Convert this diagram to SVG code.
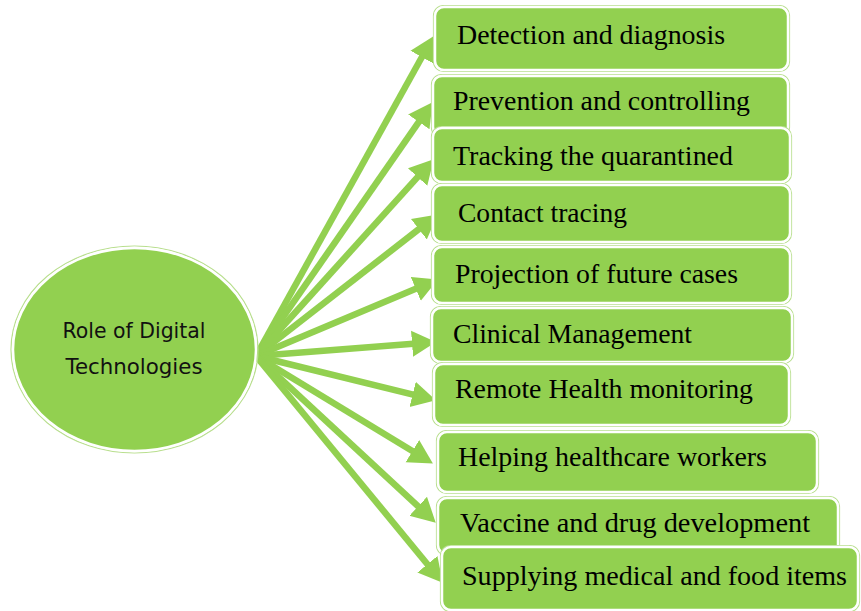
<svg xmlns="http://www.w3.org/2000/svg" width="861" height="611" viewBox="0 0 861 611">
  <style>
    .bg { fill: #ffffff; }
    .node { fill: #92D050; stroke: #ffffff; stroke-width: 2.5; }
    .halo { fill: none; stroke: #b9df8f; stroke-width: 1.2; }
    .lbl { font-family: "Liberation Serif", "Times New Roman", serif; font-size: 27px; fill: #000000; }
    .clbl { font-family: "DejaVu Sans", "Verdana", sans-serif; font-size: 21px; fill: #111111; text-anchor: middle; }
    .conn { stroke: #92D050; stroke-width: 6.5; fill: none; }
  </style>
  <defs>
    <marker id="ah" markerUnits="userSpaceOnUse" markerWidth="26" markerHeight="28" viewBox="0 0 26 28" refX="11" refY="14" orient="auto">
      <path d="M0,1 L24,14 L0,27 Z" fill="#92D050"/>
    </marker>
  </defs>
  <rect class="bg" x="0" y="0" width="861" height="611"/>

  <g id="connectors">
    <line class="conn" x1="256" y1="356" x2="427.2" y2="47.5" marker-end="url(#ah)"/>
    <line class="conn" x1="256" y1="356" x2="425.1" y2="112.9" marker-end="url(#ah)"/>
    <line class="conn" x1="256" y1="356" x2="425.0" y2="168.9" marker-end="url(#ah)"/>
    <line class="conn" x1="256" y1="356" x2="427.5" y2="222.4" marker-end="url(#ah)"/>
    <line class="conn" x1="256" y1="356" x2="425.9" y2="284.6" marker-end="url(#ah)"/>
    <line class="conn" x1="256" y1="356" x2="423.0" y2="342.9" marker-end="url(#ah)"/>
    <line class="conn" x1="256" y1="356" x2="423.3" y2="397.1" marker-end="url(#ah)"/>
    <line class="conn" x1="256" y1="356" x2="421.8" y2="456.8" marker-end="url(#ah)"/>
    <line class="conn" x1="256" y1="356" x2="426.2" y2="513.8" marker-end="url(#ah)"/>
    <line class="conn" x1="256" y1="356" x2="434.4" y2="572.7" marker-end="url(#ah)"/>
  </g>

  <g id="center">
    <ellipse class="halo" cx="134.5" cy="349.5" rx="123.5" ry="103.5"/>
    <ellipse class="node" cx="134.5" cy="349.5" rx="121.5" ry="101.5"/>
    <text class="clbl" x="134" y="338" textLength="143" lengthAdjust="spacingAndGlyphs">Role of Digital</text>
    <text class="clbl" x="134" y="374" textLength="137" lengthAdjust="spacingAndGlyphs">Technologies</text>
  </g>

  <g id="n1">
    <rect class="halo" x="433.5" y="5.5" width="356" height="66" rx="10"/>
    <rect class="node" x="435" y="7" width="353" height="63" rx="9"/>
    <text class="lbl" x="457" y="44" textLength="268" lengthAdjust="spacingAndGlyphs">Detection and diagnosis</text>
  </g>
  <g id="n2">
    <rect class="halo" x="431.5" y="74.5" width="358" height="63" rx="10"/>
    <rect class="node" x="433" y="76" width="355" height="60" rx="9"/>
    <text class="lbl" x="453" y="110" textLength="297" lengthAdjust="spacingAndGlyphs">Prevention and controlling</text>
  </g>
  <g id="n3">
    <rect class="halo" x="431.5" y="126.5" width="360" height="57" rx="10"/>
    <rect class="node" x="433" y="128" width="357" height="54" rx="9"/>
    <text class="lbl" x="453" y="165" textLength="280" lengthAdjust="spacingAndGlyphs">Tracking the quarantined</text>
  </g>
  <g id="n4">
    <rect class="halo" x="431.5" y="183.5" width="360" height="60" rx="10"/>
    <rect class="node" x="433" y="185" width="357" height="57" rx="9"/>
    <text class="lbl" x="458" y="222" textLength="169" lengthAdjust="spacingAndGlyphs">Contact tracing</text>
  </g>
  <g id="n5">
    <rect class="halo" x="431.5" y="245.5" width="360" height="59" rx="10"/>
    <rect class="node" x="433" y="247" width="357" height="56" rx="9"/>
    <text class="lbl" x="455" y="283" textLength="283" lengthAdjust="spacingAndGlyphs">Projection of future cases</text>
  </g>
  <g id="n6">
    <rect class="halo" x="430.5" y="306.5" width="363" height="57" rx="10"/>
    <rect class="node" x="432" y="308" width="360" height="54" rx="9"/>
    <text class="lbl" x="453" y="343" textLength="239" lengthAdjust="spacingAndGlyphs">Clinical Management</text>
  </g>
  <g id="n7">
    <rect class="halo" x="432.5" y="362.5" width="358" height="64" rx="10"/>
    <rect class="node" x="434" y="364" width="355" height="61" rx="9"/>
    <text class="lbl" x="455" y="398" textLength="298" lengthAdjust="spacingAndGlyphs">Remote Health monitoring</text>
  </g>
  <g id="n8">
    <rect class="halo" x="436.5" y="430.5" width="382" height="63" rx="10"/>
    <rect class="node" x="438" y="432" width="379" height="60" rx="9"/>
    <text class="lbl" x="458" y="466" textLength="309" lengthAdjust="spacingAndGlyphs">Helping healthcare workers</text>
  </g>
  <g id="n9">
    <rect class="halo" x="436.5" y="496.5" width="403" height="59" rx="10"/>
    <rect class="node" x="438" y="498" width="400" height="56" rx="9"/>
    <text class="lbl" x="460" y="532" textLength="350" lengthAdjust="spacingAndGlyphs">Vaccine and drug development</text>
  </g>
  <g id="n10">
    <rect class="halo" x="440.5" y="545.5" width="419" height="66" rx="10"/>
    <rect class="node" x="442" y="547" width="416" height="63" rx="9"/>
    <text class="lbl" x="462" y="585" textLength="385" lengthAdjust="spacingAndGlyphs">Supplying medical and food items</text>
  </g>
</svg>
